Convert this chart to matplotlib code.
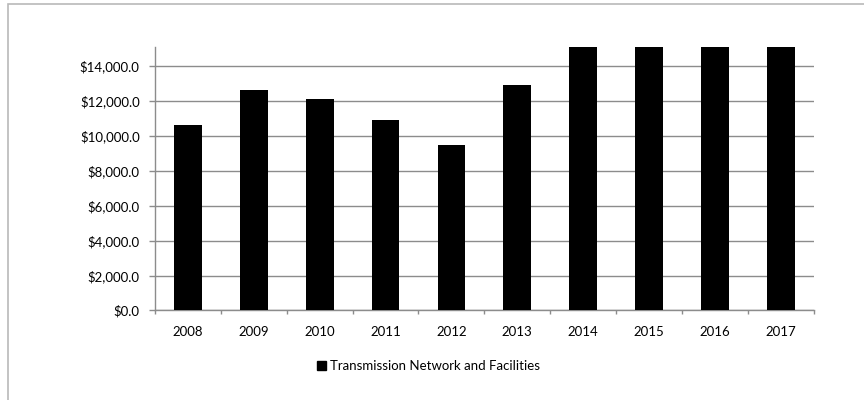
import matplotlib.pyplot as plt
from matplotlib.patches import Patch, Rectangle
from matplotlib.ticker import FuncFormatter
import numpy as np

plt.rcParams['font.family'] = ['Lato', 'DejaVu Sans']

# values in $ (last four bars run past the top of the axis)
years = ['2008', '2009', '2010', '2011', '2012', '2013', '2014', '2015', '2016', '2017']
spend = [10620, 12655, 12120, 10920, 9500, 12915, 15800, 16400, 17000, 17600]
series_name = 'Transmission Network and Facilities'

fig = plt.figure(figsize=(8.64, 4.0), dpi=100)
ax = fig.add_axes([0.1794, 0.2238, 0.7624, 0.6587])

x = np.arange(len(years))
ax.bar(x, spend, width=0.42, color='black', zorder=3)

ax.set_xlim(-0.5, len(years) - 0.5)
ax.set_ylim(0, 15100)
ax.set_yticks(np.arange(0, 14001, 2000))
ax.yaxis.set_major_formatter(FuncFormatter(lambda v, p: '${:,.1f}'.format(v)))
ax.set_xticks(x)
ax.set_xticklabels(years)
ax.set_xticks(np.arange(-0.5, len(years), 1), minor=True)

ax.grid(axis='y', color='#8c8c8c', linewidth=1, zorder=0)
for s in ['top', 'right']:
    ax.spines[s].set_visible(False)
for s in ['left', 'bottom']:
    ax.spines[s].set_color('#8c8c8c')
    ax.spines[s].set_linewidth(1)

ax.tick_params(axis='y', length=4, width=1, color='#8c8c8c', pad=7, labelsize=9.5, labelcolor='black')
ax.tick_params(axis='x', which='major', length=0, pad=11, labelsize=9.5, labelcolor='black')
ax.tick_params(axis='x', which='minor', length=3, width=1, color='#8c8c8c')

fig.legend(handles=[Patch(facecolor='black', edgecolor='black', label=series_name)],
           loc='center', bbox_to_anchor=(428.5 / 864, 1 - 366 / 400), frameon=False,
           fontsize=9.5, handlelength=0.75, handleheight=0.75, handletextpad=0.3)

# outer chart border (only top and left edges visible in the crop)
fig.patches.append(Rectangle((7.5 / 864, -0.1), 1.2, 1 - 4.5 / 400 + 0.1, transform=fig.transFigure,
                             fill=False, edgecolor='#b9b9b9', linewidth=1.2))

fig.savefig('out.png', dpi=100)
